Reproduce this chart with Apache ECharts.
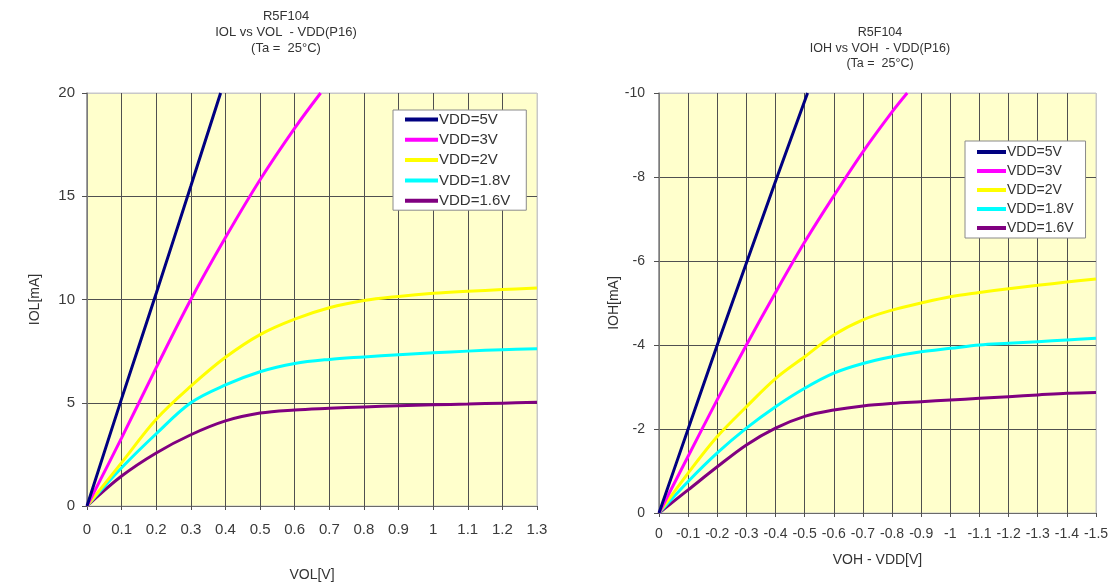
<!DOCTYPE html>
<html>
<head>
<meta charset="utf-8">
<script src="https://cdn.jsdelivr.net/npm/echarts@6/dist/echarts.min.js"></script>
<style>
  html, body { margin: 0; padding: 0; background: #fff; }
  #main { width: 1113px; height: 587px; }
</style>
</head>
<body>
<div id="main"></div>
<script>
// IOL vs VOL (left chart)
var volAxis = [0, 0.1, 0.2, 0.3, 0.4, 0.5, 0.6, 0.7, 0.8, 0.9, 1.0, 1.1, 1.2, 1.3];
var vol5 = [0, 0.1, 0.2, 0.3, 0.386];
var iol5 = [0, 5.2, 10.3, 15.5, 20];
var vol3 = [0, 0.1, 0.2, 0.3, 0.4, 0.5, 0.6, 0.675];
var iol3 = [0, 3.3, 6.7, 10, 13, 15.8, 18.3, 20];
var iol2 = [0, 2.1, 4.2, 5.8, 7.2, 8.3, 9.05, 9.6, 9.95, 10.15, 10.3, 10.4, 10.48, 10.56];
var iol18 = [0, 1.85, 3.5, 5.0, 5.86, 6.5, 6.9, 7.1, 7.22, 7.33, 7.42, 7.5, 7.57, 7.62];
var iol16 = [0, 1.45, 2.57, 3.45, 4.12, 4.5, 4.65, 4.73, 4.8, 4.85, 4.9, 4.94, 4.98, 5.02];

// IOH vs VOH - VDD (right chart)
var vohAxis = [0, -0.1, -0.2, -0.3, -0.4, -0.5, -0.6, -0.7, -0.8, -0.9, -1.0, -1.1, -1.2, -1.3, -1.4, -1.5];
var voh5 = [0, -0.1, -0.2, -0.3, -0.4, -0.51];
var ioh5 = [0, -2.0, -4.0, -5.95, -7.9, -10];
var voh3 = [0, -0.1, -0.2, -0.3, -0.4, -0.5, -0.6, -0.7, -0.8, -0.852];
var ioh3 = [0, -1.35, -2.7, -4.0, -5.25, -6.45, -7.55, -8.6, -9.55, -10];
var ioh2 = [0, -0.95, -1.82, -2.53, -3.2, -3.72, -4.24, -4.6, -4.83, -5.0, -5.15, -5.25, -5.34, -5.42, -5.5, -5.57];
var ioh18 = [0, -0.75, -1.43, -2.02, -2.53, -2.97, -3.33, -3.56, -3.72, -3.84, -3.92, -4.0, -4.04, -4.08, -4.12, -4.16];
var ioh16 = [0, -0.55, -1.1, -1.62, -2.02, -2.3, -2.45, -2.55, -2.61, -2.65, -2.69, -2.73, -2.77, -2.81, -2.85, -2.87];

var names = ['VDD=5V', 'VDD=3V', 'VDD=2V', 'VDD=1.8V', 'VDD=1.6V'];
var colors = ['#000080', '#ff00ff', '#ffff00', '#00ffff', '#800080'];

var FONT = '"Liberation Sans", Arial, sans-serif';

function pairs(xs, ys) {
    var out = [];
    for (var i = 0; i < ys.length; i++) {
        out.push([xs[i], ys[i]]);
    }
    return out;
}

// split line colours: grid lines dark, the one on the far edge light
function gridColors(n, lightFirst) {
    var arr = [];
    for (var i = 0; i < n; i++) arr.push('#505050');
    if (lightFirst) arr[0] = '#c8c8c8'; else arr[n - 1] = '#c8c8c8';
    return arr;
}

function lineSeries(name, color, data, idx) {
    return {
        name: name,
        type: 'line',
        xAxisIndex: idx,
        yAxisIndex: idx,
        data: data,
        smooth: 0.35,
        showSymbol: false,
        symbol: 'none',
        lineStyle: { color: color, width: 3 },
        itemStyle: { color: color },
        z: 3
    };
}

var chart = echarts.init(document.getElementById('main'));

var axisText = { color: '#3a3a3a', fontFamily: FONT };

var option = {
    backgroundColor: '#ffffff',
    animation: false,
    graphic: [
        {
            type: 'text', x: 286, y: 8,
            style: {
                text: 'R5F104\nIOL vs VOL  - VDD(P16)\n(Ta =  25°C)',
                textAlign: 'center', fontSize: 13, lineHeight: 16,
                fontFamily: FONT, fill: '#333'
            }
        },
        {
            type: 'text', x: 880, y: 25,
            style: {
                text: 'R5F104\nIOH vs VOH  - VDD(P16)\n(Ta =  25°C)',
                textAlign: 'center', fontSize: 12.5, lineHeight: 15.5,
                fontFamily: FONT, fill: '#333'
            }
        }
    ],
    legend: [
        {
            data: names,
            orient: 'vertical',
            left: 393, top: 110,
            padding: [2, 16, 2, 12],
            itemWidth: 33, itemHeight: 4, itemGap: 5.3,
            icon: 'rect',
            backgroundColor: '#ffffff',
            borderColor: '#8a8a8a', borderWidth: 1,
            textStyle: { fontSize: 15, color: '#333', fontFamily: FONT, padding: [0, 0, 0, -4] }
        },
        {
            data: names,
            orient: 'vertical',
            left: 965, top: 141,
            padding: [4, 12, 3, 12],
            itemWidth: 29, itemHeight: 4, itemGap: 5,
            icon: 'rect',
            backgroundColor: '#ffffff',
            borderColor: '#8a8a8a', borderWidth: 1,
            textStyle: { fontSize: 14, color: '#333', fontFamily: FONT, padding: [0, 0, 0, -4] }
        }
    ],
    grid: [
        {
            left: 87, top: 93, width: 450, height: 418,
            show: true, backgroundColor: '#ffffcc',
            borderColor: '#c8c8c8', borderWidth: 1
        },
        {
            left: 659, top: 93, width: 437, height: 420,
            show: true, backgroundColor: '#ffffcc',
            borderColor: '#c8c8c8', borderWidth: 1
        }
    ],
    xAxis: [
        {
            gridIndex: 0, type: 'value',
            min: volAxis[0], max: volAxis[volAxis.length - 1], interval: 0.1,
            name: 'VOL[V]', nameLocation: 'middle', nameGap: 62,
            nameTextStyle: { fontSize: 14, color: '#333', fontFamily: FONT },
            axisLine: { show: true, onZero: false, lineStyle: { color: '#6a6a6a', width: 1 } },
            axisTick: { show: true, length: 4, lineStyle: { color: '#505050' } },
            axisLabel: Object.assign({ fontSize: 15, margin: 16 }, axisText),
            splitLine: { show: true, lineStyle: { color: gridColors(volAxis.length, false), width: 1 } }
        },
        {
            gridIndex: 1, type: 'value', inverse: true,
            min: vohAxis[vohAxis.length - 1], max: vohAxis[0], interval: 0.1,
            name: 'VOH - VDD[V]', nameLocation: 'middle', nameGap: 40,
            nameTextStyle: { fontSize: 14, color: '#333', fontFamily: FONT },
            axisLine: { show: true, onZero: false, lineStyle: { color: '#6a6a6a', width: 1 } },
            axisTick: { show: true, length: 4, lineStyle: { color: '#505050' } },
            axisLabel: Object.assign({ fontSize: 14, margin: 14 }, axisText),
            splitLine: { show: true, lineStyle: { color: gridColors(vohAxis.length, true), width: 1 } }
        }
    ],
    yAxis: [
        {
            gridIndex: 0, type: 'value',
            min: 0, max: 20, interval: 5,
            name: 'IOL[mA]', nameLocation: 'middle', nameGap: 45,
            nameTextStyle: { fontSize: 14, color: '#333', fontFamily: FONT },
            axisLine: { show: true, onZero: false, lineStyle: { color: '#8a8a8a', width: 1.5 } },
            axisTick: { show: true, length: 5, lineStyle: { color: '#505050' } },
            axisLabel: Object.assign({ fontSize: 15, margin: 12 }, axisText),
            splitLine: { show: true, lineStyle: { color: gridColors(5, false), width: 1 } }
        },
        {
            gridIndex: 1, type: 'value', inverse: true,
            min: -10, max: 0, interval: 2,
            name: 'IOH[mA]', nameLocation: 'middle', nameGap: 33,
            nameTextStyle: { fontSize: 14, color: '#333', fontFamily: FONT },
            axisLine: { show: true, onZero: false, lineStyle: { color: '#8a8a8a', width: 1.5 } },
            axisTick: { show: true, length: 5, lineStyle: { color: '#505050' } },
            axisLabel: Object.assign({ fontSize: 14, margin: 14 }, axisText),
            splitLine: { show: true, lineStyle: { color: gridColors(6, true), width: 1 } }
        }
    ],
    series: [
        lineSeries(names[4], colors[4], pairs(volAxis, iol16), 0),
        lineSeries(names[3], colors[3], pairs(volAxis, iol18), 0),
        lineSeries(names[2], colors[2], pairs(volAxis, iol2), 0),
        lineSeries(names[1], colors[1], pairs(vol3, iol3), 0),
        lineSeries(names[0], colors[0], pairs(vol5, iol5), 0),
        lineSeries(names[4], colors[4], pairs(vohAxis, ioh16), 1),
        lineSeries(names[3], colors[3], pairs(vohAxis, ioh18), 1),
        lineSeries(names[2], colors[2], pairs(vohAxis, ioh2), 1),
        lineSeries(names[1], colors[1], pairs(voh3, ioh3), 1),
        lineSeries(names[0], colors[0], pairs(voh5, ioh5), 1)
    ]
};

chart.setOption(option);
</script>
</body>
</html>
